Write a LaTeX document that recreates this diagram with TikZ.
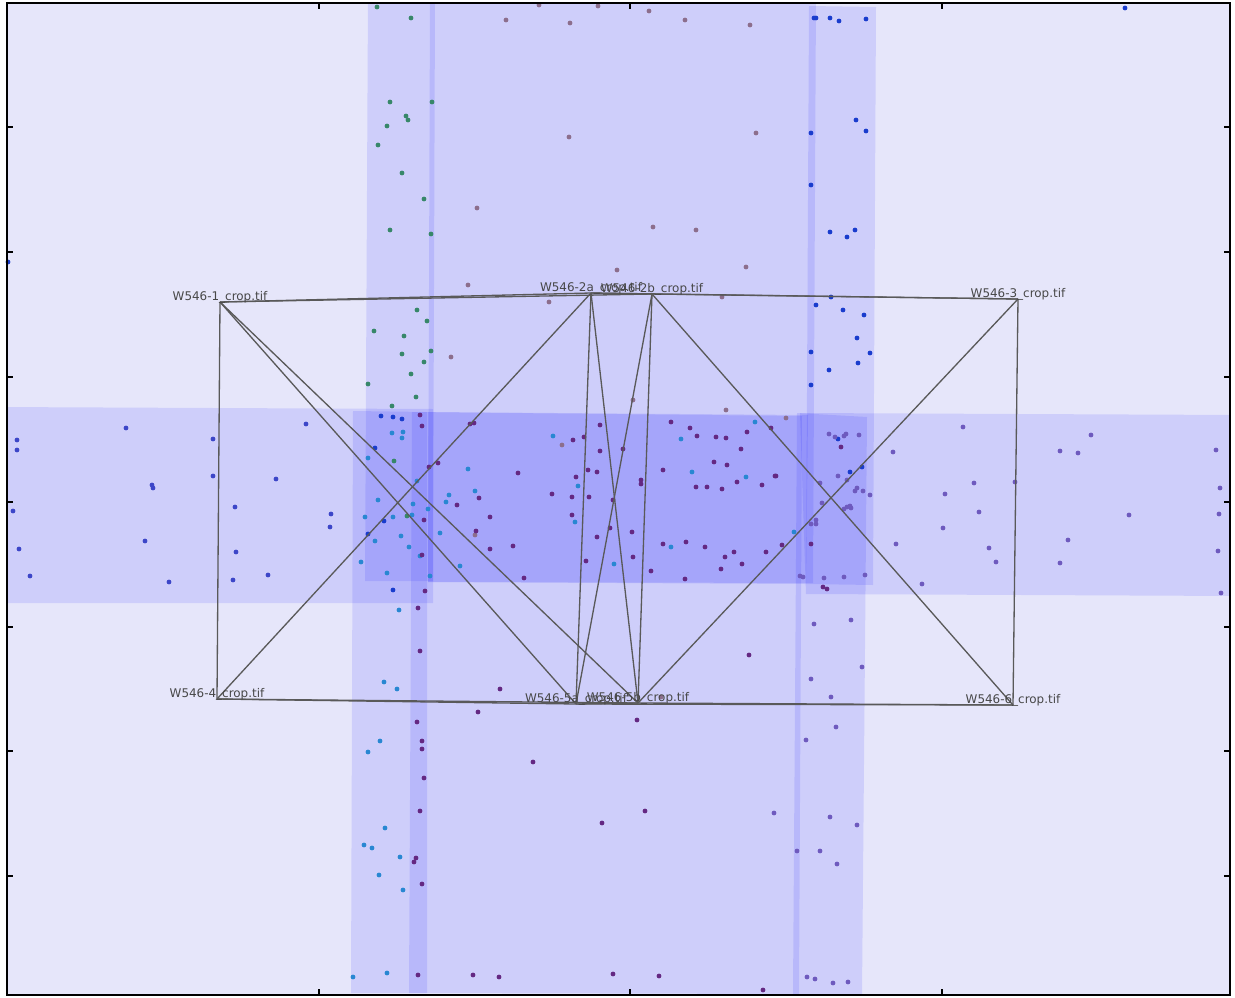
\documentclass[tikz,border=0pt]{standalone}
\usepackage{fontspec}
\setmainfont{DejaVu Sans}
\usepackage{tikz}
\usetikzlibrary{positioning}
\usepackage{xcolor}

\definecolor{axbg}{RGB}{230,230,250}
\definecolor{ptteal}{RGB}{55,135,105}
\definecolor{ptmauve}{RGB}{140,110,140}
\definecolor{ptblue}{RGB}{25,60,205}
\definecolor{ptindigo}{RGB}{60,70,200}
\definecolor{ptsky}{RGB}{40,135,210}
\definecolor{ptplum}{RGB}{100,40,130}
\definecolor{ptviolet}{RGB}{110,90,190}

\begin{document}
\begin{tikzpicture}[x=0.02cm, y=-0.02cm,
    footprint/.style={fill=blue, fill opacity=0.1},
    link/.style={draw=black!65, line width=0.75pt},
    lbl/.style={font=\fontsize{6.8}{8}\selectfont, text=black!72, anchor=base, inner sep=0pt}]

                    \useasboundingbox (0,0) rectangle (1235,998);
                    \fill[white] (0,0) rectangle (1235,998);

                    % Axes background
                    \fill[axbg] (7,3) rectangle (1230,995);

                    % Image footprints
                    \begin{scope}
                    \clip (7,3) rectangle (1230,995);
                    \fill[footprint] (368,-5) -- (435,-5) -- (433,581) -- (365,581) -- cycle;
                    \fill[footprint] (430,-5) -- (816,-5) -- (813,583) -- (428,582) -- cycle;
                    \fill[footprint] (809,6) -- (876,7) -- (873,585) -- (806,584) -- cycle;
                    \fill[footprint] (353,411) -- (427,412) -- (427,993) -- (351,993) -- cycle;
                    \fill[footprint] (412,412) -- (802,416) -- (799,994) -- (409,993) -- cycle;
                    \fill[footprint] (797,413) -- (867,417) -- (862,995) -- (793,994) -- cycle;
                    \fill[footprint] (-5,407) -- (433,409) -- (433,603) -- (-5,603) -- cycle;
                    \fill[footprint] (800,413) -- (1240,415) -- (1240,596) -- (806,594) -- cycle;
                    \fill[footprint] (428,412) -- (808,415) -- (806,584) -- (428,582) -- cycle;
                    \end{scope}

                    % Tie points
                    \foreach \p in {(377,7),(411,18),(390,102),(432,102),(406,116),(408,120),(387,126),(378,145),(402,173),(424,199),(390,230),(431,234),(417,310),(374,331),(404,336),(427,321),(402,354),(424,362),(411,374),(368,384),(431,351),(392,406),(416,397),(394,461),(407,516)}
                        \fill[ptteal] \p circle (2.4);
                    \foreach \p in {(506,20),(539,5),(570,23),(598,6),(649,11),(685,20),(750,25),(569,137),(756,133),(477,208),(653,227),(696,230),(746,267),(617,270),(468,285),(549,302),(722,297),(451,357),(633,400),(726,410),(562,445),(786,418),(661,697),(475,535)}
                        \fill[ptmauve] \p circle (2.4);
                    \foreach \p in {(814,18),(816,18),(830,18),(839,21),(866,19),(1125,8),(811,133),(856,120),(866,131),(811,185),(830,232),(847,237),(855,230),(831,297),(816,305),(843,310),(864,315),(857,338),(811,352),(870,353),(858,363),(829,370),(811,385),(381,416),(393,417),(402,419),(375,448),(384,521),(368,534),(393,590),(838,439),(850,472),(862,467),(8,262)}
                        \fill[ptblue] \p circle (2.4);
                    \foreach \p in {(17,440),(17,450),(126,428),(213,439),(306,424),(152,485),(153,488),(213,476),(235,507),(276,479),(13,511),(331,514),(330,527),(145,541),(236,552),(19,549),(30,576),(169,582),(233,580),(268,575)}
                        \fill[ptindigo] \p circle (2.4);
                    \foreach \p in {(392,433),(403,432),(402,438),(368,458),(468,469),(417,481),(475,491),(449,495),(446,502),(378,500),(413,504),(428,509),(365,517),(393,517),(412,515),(440,533),(375,541),(401,536),(409,547),(420,556),(361,562),(460,566),(430,576),(387,573),(399,610),(553,436),(681,439),(755,422),(692,472),(746,477),(578,486),(575,522),(671,547),(614,564),(794,532),(384,682),(397,689),(380,741),(368,752),(385,828),(364,845),(372,848),(400,857),(379,875),(403,890),(353,977),(387,973)}
                        \fill[ptsky] \p circle (2.4);
                    \foreach \p in {(420,415),(422,426),(470,424),(474,423),(429,467),(438,463),(457,505),(479,498),(424,520),(476,531),(422,555),(425,591),(418,608),(573,440),(584,437),(600,425),(600,451),(623,449),(671,422),(690,428),(697,436),(716,437),(726,438),(741,449),(771,428),(747,432),(518,473),(576,477),(588,470),(597,472),(641,480),(641,484),(663,470),(714,462),(727,465),(762,485),(775,476),(696,487),(707,487),(722,489),(737,482),(552,494),(572,497),(589,497),(613,500),(490,517),(572,515),(597,537),(610,528),(632,532),(663,544),(686,542),(705,547),(734,552),(766,552),(633,557),(513,546),(490,549),(586,561),(725,557),(782,545),(651,571),(685,579),(721,569),(742,564),(524,578),(776,476),(841,447),(811,544),(823,587),(827,589),(420,651),(417,722),(422,741),(422,749),(424,778),(420,811),(416,858),(414,862),(422,884),(418,975),(500,689),(478,712),(637,720),(533,762),(602,823),(645,811),(749,655),(473,975),(499,977),(613,974),(659,976),(763,990)}
                        \fill[ptplum] \p circle (2.4);
                    \foreach \p in {(829,434),(835,437),(844,436),(846,434),(859,435),(893,452),(838,476),(847,480),(820,483),(857,488),(855,491),(863,491),(870,495),(822,503),(844,509),(847,507),(850,506),(851,508),(816,520),(816,524),(811,524),(896,544),(800,576),(803,577),(824,578),(844,577),(865,575),(963,427),(1060,451),(1078,453),(1091,435),(1216,450),(945,494),(974,483),(1015,482),(1220,488),(1219,514),(943,528),(979,512),(1129,515),(1068,540),(989,548),(996,562),(1060,563),(1218,551),(922,584),(1221,593),(814,624),(851,620),(862,667),(811,679),(831,697),(836,727),(806,740),(774,813),(830,817),(857,825),(797,851),(820,851),(837,864),(807,977),(815,979),(833,983),(848,982)}
                        \fill[ptviolet] \p circle (2.4);

                    % Image positions
                    \coordinate (w1) at (220,302);
                    \coordinate (w2a) at (591,293);
                    \coordinate (w2b) at (652,294);
                    \coordinate (w3) at (1018,299);
                    \coordinate (w4) at (217,699);
                    \coordinate (w5a) at (576,704);
                    \coordinate (w5b) at (638,703);
                    \coordinate (w6) at (1013,705);

                    % Overlap links
                    \draw[link] (w1) -- (w2a);
                    \draw[link] (w1) -- (w2b);
                    \draw[link] (w1) -- (w4);
                    \draw[link] (w1) -- (w5a);
                    \draw[link] (w1) -- (w5b);
                    \draw[link] (w2a) -- (w2b);
                    \draw[link] (w2a) -- (w3);
                    \draw[link] (w2a) -- (w4);
                    \draw[link] (w2a) -- (w5a);
                    \draw[link] (w2a) -- (w5b);
                    \draw[link] (w2b) -- (w3);
                    \draw[link] (w2b) -- (w5a);
                    \draw[link] (w2b) -- (w5b);
                    \draw[link] (w2b) -- (w6);
                    \draw[link] (w3) -- (w5b);
                    \draw[link] (w3) -- (w6);
                    \draw[link] (w4) -- (w5a);
                    \draw[link] (w4) -- (w5b);
                    \draw[link] (w5a) -- (w5b);
                    \draw[link] (w5a) -- (w6);
                    \draw[link] (w5b) -- (w6);

                    % Labels
                    \node[lbl] (w1l) at ([yshift=1.1pt]w1) {W546-1\_crop.tif};
                    \node[lbl] (w2al) at ([yshift=1.1pt]w2a) {W546-2a\_crop.tif};
                    \node[lbl] (w2bl) at ([yshift=1.1pt]w2b) {W546-2b\_crop.tif};
                    \node[lbl] (w3l) at ([yshift=1.1pt]w3) {W546-3\_crop.tif};
                    \node[lbl] (w4l) at ([yshift=1.1pt]w4) {W546-4\_crop.tif};
                    \node[lbl] (w5al) at ([yshift=1.1pt]w5a) {W546-5a\_crop.tif};
                    \node[lbl] (w5bl) at ([yshift=1.1pt]w5b) {W546-5b\_crop.tif};
                    \node[lbl] (w6l) at ([yshift=1.1pt]w6) {W546-6\_crop.tif};

                    % Frame and ticks
                    \foreach \x in {319,630,942} {
                        \draw[line width=0.6pt] (\x,3) -- (\x,9);
                        \draw[line width=0.6pt] (\x,995) -- (\x,989);
                    }
                    \foreach \y in {127,252,377,502,627,751,876} {
                        \draw[line width=0.6pt] (7,\y) -- (13,\y);
                        \draw[line width=0.6pt] (1230,\y) -- (1224,\y);
                    }
                    \draw[line width=1pt] (7,3) rectangle (1230,995);

                \end{tikzpicture}
\end{document}
